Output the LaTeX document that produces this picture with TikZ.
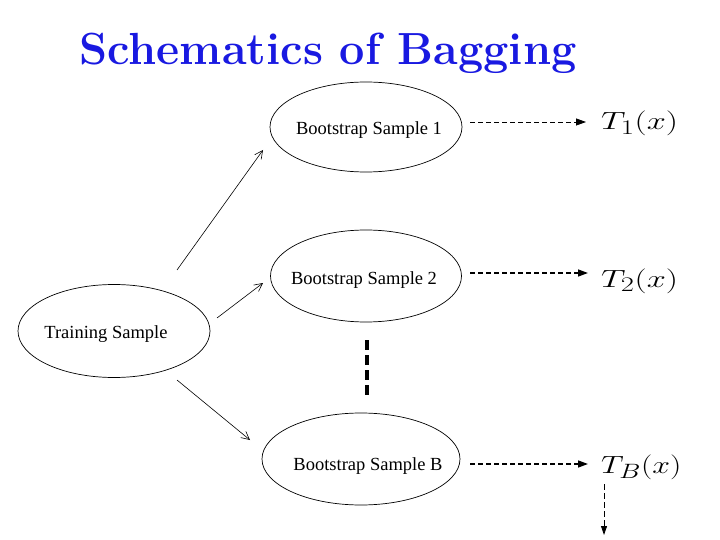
\documentclass[tikz,border=0pt]{standalone}
\usepackage{fontspec}
\newfontfamily\timesf{Liberation Serif}
\usetikzlibrary{arrows.meta,shapes.geometric}
\definecolor{titleblue}{RGB}{25,25,225}
\begin{document}
\begin{tikzpicture}[x=1pt,y=-1pt,
  ell/.style={draw,ellipse,line width=0.7pt,inner sep=0pt},
  etext/.style={font=\timesf\fontsize{18.5}{20}\selectfont},
  thinarrow/.style={line width=0.6pt,-{Straight Barb[length=8pt,width=8pt]}},
  dasharrow/.style={dash pattern=on 5pt off 3pt,-{Triangle[length=10pt,width=7pt]}},
  tlabel/.style={font=\fontsize{29}{32}\selectfont,anchor=base west,inner sep=0pt}]
\useasboundingbox (0,0) rectangle (720,540);
\node[font=\fontsize{45}{48}\selectfont\bfseries,text=titleblue,anchor=base] (title) at (328,65) {Schematics of Bagging};
\node[ell,minimum width=192pt,minimum height=90pt] (bs1) at (366,127) {};
\node[etext] (bs1t) at (369,130) {Bootstrap Sample 1};
\node[ell,minimum width=191pt,minimum height=92pt] (bs2) at (366,276) {};
\node[etext] (bs2t) at (364,280) {Bootstrap Sample 2};
\node[ell,minimum width=192pt,minimum height=93pt] (ts) at (114,331) {};
\node[etext] (tst) at (106,334) {Training Sample};
\node[ell,minimum width=198pt,minimum height=92pt] (bsb) at (361,459) {};
\node[etext] (bsbt) at (368,466) {Bootstrap Sample B};
\node[tlabel] (t1) at (601,130) {\scalebox{1.38}[1]{$T_1(x)$}};
\node[tlabel] (t2) at (601,287) {\scalebox{1.38}[1]{$T_2(x)$}};
\node[tlabel] (tb) at (601,473) {\scalebox{1.28}[1]{$T_B(x)$}};
\coordinate (a1s) at (177,270);
\coordinate (a1e) at (263,150);
\coordinate (a2s) at (217,318);
\coordinate (a2e) at (263,283);
\coordinate (a3s) at (177,380);
\coordinate (a3e) at (250,440);
\draw[thinarrow] (a1s) -- (a1e);
\draw[thinarrow] (a2s) -- (a2e);
\draw[thinarrow] (a3s) -- (a3e);
\coordinate (d1s) at (470,122);
\coordinate (d1e) at (586,122);
\coordinate (d2s) at (470,273);
\coordinate (d2e) at (588,273);
\coordinate (d3s) at (470,464);
\coordinate (d3e) at (588,464);
\draw[dasharrow,line width=0.8pt] (d1s) -- (d1e);
\draw[dasharrow,line width=1.4pt] (d2s) -- (d2e);
\draw[dasharrow,line width=1.4pt] (d3s) -- (d3e);
\coordinate (vs) at (367,340);
\coordinate (ve) at (367,396);
\draw[line width=3.5pt,dash pattern=on 10pt off 5pt] (vs) -- (ve);
\coordinate (ds) at (604,484);
\coordinate (de) at (604,535);
\draw[line width=0.8pt,dash pattern=on 6pt off 3pt,-{Triangle[length=9pt,width=6pt]}] (ds) -- (de);
\end{tikzpicture}
\end{document}
